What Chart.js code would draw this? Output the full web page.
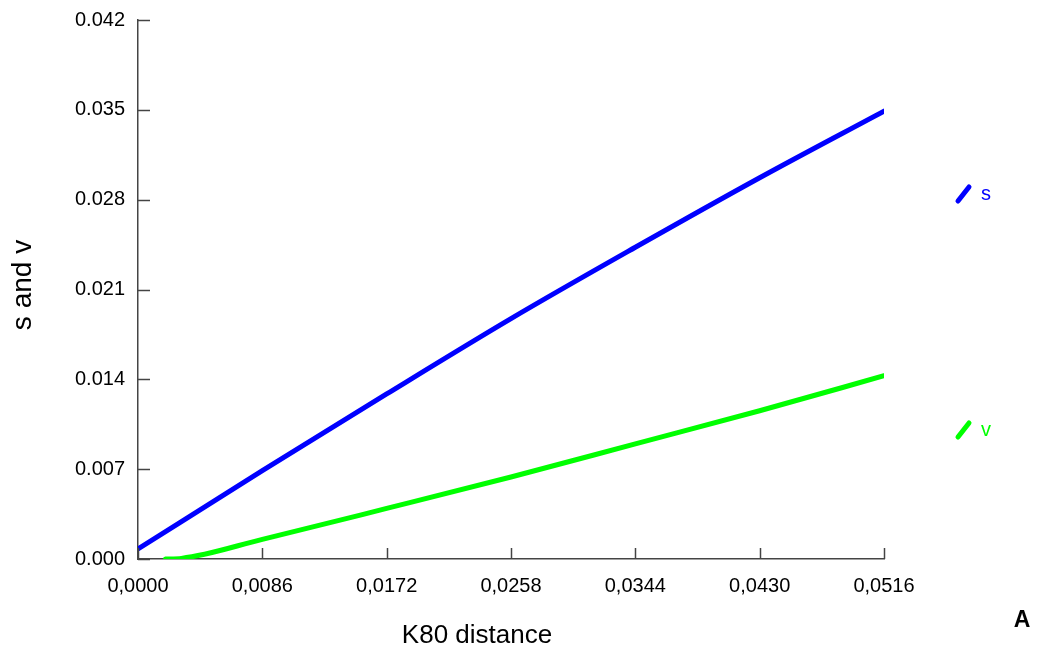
<!DOCTYPE html>
<html>
<head>
<meta charset="utf-8">
<script src="https://cdn.jsdelivr.net/npm/chart.js@4/dist/chart.umd.min.js"></script>
<style>
  html, body { margin: 0; padding: 0; background: #fff; }
  #wrap { width: 1038px; height: 657px; position: relative; }
</style>
</head>
<body>
<div id="wrap"><canvas id="chart" width="1038" height="657"></canvas></div>
<script>
// values
const sX = [0, 0.0086, 0.0172, 0.0258, 0.0344, 0.0430, 0.0516];
const sY = [0.00078, 0.00688, 0.01286, 0.01873, 0.02429, 0.02971, 0.0349];
const vX = [0.0019, 0.0030, 0.0086, 0.0172, 0.0258, 0.0344, 0.0430, 0.0516];
const vY = [0, 0.00005, 0.00153, 0.00394, 0.00639, 0.00897, 0.01155, 0.01428];
const xTicks = [0, 0.0086, 0.0172, 0.0258, 0.0344, 0.0430, 0.0516];
const yTicks = [0, 0.007, 0.014, 0.021, 0.028, 0.035, 0.042];

const FONT = '"Liberation Sans", Arial, sans-serif';
const AXIS = '#444';

// inward tick marks, axis titles, side legend and panel letter
const extras = {
  id: 'extras',
  afterDraw(chart) {
    const ctx = chart.ctx;
    const xs = chart.scales.x, ys = chart.scales.y;
    const a = chart.chartArea;
    ctx.save();
    ctx.strokeStyle = AXIS;
    ctx.lineWidth = 1.5;
    xTicks.forEach(v => {
      const px = Math.round(xs.getPixelForValue(v)) + 0.5;
      ctx.beginPath();
      ctx.moveTo(px, a.bottom);
      ctx.lineTo(px, a.bottom - 11);
      ctx.stroke();
    });
    yTicks.forEach(v => {
      const py = Math.round(ys.getPixelForValue(v)) + 0.5;
      ctx.beginPath();
      ctx.moveTo(a.left, py);
      ctx.lineTo(a.left + 12, py);
      ctx.stroke();
    });

    ctx.fillStyle = '#000';
    ctx.font = '26px ' + FONT;
    ctx.textAlign = 'center';
    ctx.textBaseline = 'middle';
    ctx.fillText('K80 distance', 477, 636);
    ctx.save();
    ctx.translate(23, 285);
    ctx.rotate(-Math.PI / 2);
    ctx.font = '28px ' + FONT;
    ctx.fillText('s and v', 0, 0);
    ctx.restore();

    ctx.font = 'bold 23px ' + FONT;
    ctx.fillText('A', 1022, 621);

    // legend: short slanted strokes with labels
    const legend = [{ y: 194 }, { y: 430 }];
    chart.data.datasets.forEach((ds, i) => {
      const cy = legend[i].y;
      ctx.strokeStyle = ds.borderColor;
      ctx.lineWidth = 5;
      ctx.lineCap = 'round';
      ctx.beginPath();
      ctx.moveTo(958, cy + 7);
      ctx.lineTo(969, cy - 7);
      ctx.stroke();
      ctx.fillStyle = ds.borderColor;
      ctx.font = '20px ' + FONT;
      ctx.textAlign = 'left';
      ctx.fillText(ds.label, 981, cy);
    });
    ctx.restore();
  }
};

new Chart(document.getElementById('chart'), {
  type: 'line',
  data: {
    datasets: [
      {
        label: 's',
        data: sX.map((x, i) => ({ x: x, y: sY[i] })),
        borderColor: '#0000ff',
        borderWidth: 5,
        borderCapStyle: 'round',
        pointRadius: 0,
        cubicInterpolationMode: 'monotone'
      },
      {
        label: 'v',
        data: vX.map((x, i) => ({ x: x, y: vY[i] })),
        borderColor: '#00ff00',
        borderWidth: 5,
        borderCapStyle: 'round',
        pointRadius: 0,
        cubicInterpolationMode: 'monotone'
      }
    ]
  },
  options: {
    responsive: false,
    animation: false,
    devicePixelRatio: 1,
    layout: { padding: { top: 20, right: 154, bottom: 0, left: 0 } },
    plugins: { legend: { display: false }, tooltip: { enabled: false } },
    scales: {
      x: {
        type: 'linear',
        min: 0,
        max: 0.0516,
        afterBuildTicks: s => { s.ticks = xTicks.map(v => ({ value: v })); },
        afterFit: s => { s.height = 98; s.paddingLeft = 0; s.paddingRight = 0; },
        grid: { display: true, drawOnChartArea: false, drawTicks: false },
        border: { color: AXIS, width: 1.5 },
        ticks: {
          autoSkip: false,
          maxRotation: 0,
          padding: 15,
          color: '#000',
          font: { family: FONT, size: 20 },
          callback: v => v.toFixed(4).replace('.', ',')
        }
      },
      y: {
        min: 0,
        max: 0.042,
        afterBuildTicks: s => { s.ticks = yTicks.map(v => ({ value: v })); },
        afterFit: s => { s.width = 138; s.paddingTop = 0; s.paddingBottom = 0; },
        grid: { display: true, drawOnChartArea: false, drawTicks: false },
        border: { color: AXIS, width: 1.5 },
        ticks: {
          padding: 13,
          color: '#000',
          font: { family: FONT, size: 20 },
          callback: v => v.toFixed(3)
        }
      }
    }
  },
  plugins: [extras]
});
</script>
</body>
</html>
